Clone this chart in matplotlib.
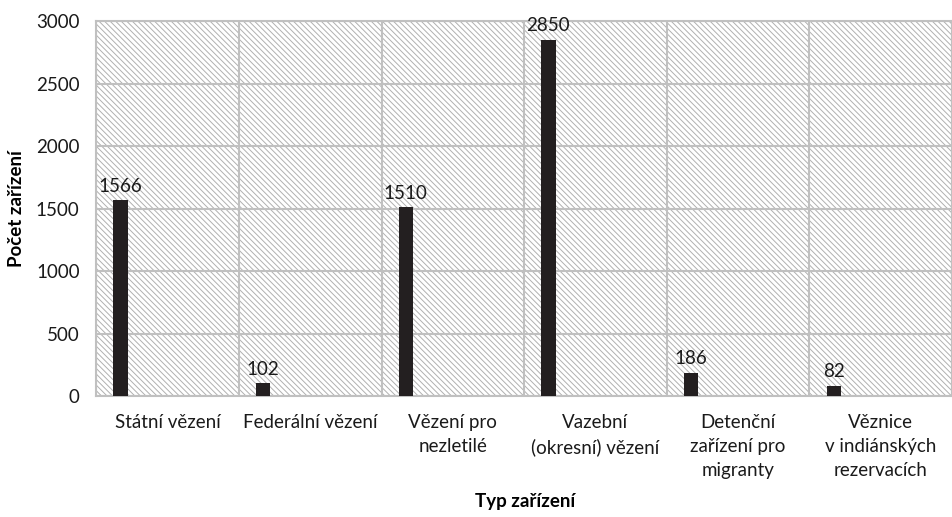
import matplotlib.pyplot as plt
from matplotlib.patches import Rectangle

# Data
categories = ['Státní vězení', 'Federální vězení', 'Vězení pro\nnezletilé',
              'Vazební\n(okresní) vězení', 'Detenční\nzařízení pro\nmigranty',
              'Věznice\nv indiánských\nrezervacích']
counts = [1566, 102, 1510, 2850, 186, 82]
y_ticks = [0, 500, 1000, 1500, 2000, 2500, 3000]


def main():
    plt.rcParams['font.family'] = ['Lato', 'DejaVu Sans']
    plt.rcParams['hatch.color'] = '#b0b0b0'
    plt.rcParams['hatch.linewidth'] = 0.7

    fig = plt.figure(figsize=(9.53, 5.17), dpi=100)
    ax = fig.add_axes([0.101, 0.234, 0.898, 0.725])

    n = len(categories)
    ax.set_xlim(-0.5, n - 0.5)
    ax.set_ylim(0, 3000)

    # Hatched plot background
    ax.add_patch(Rectangle((0, 0), 1, 1, transform=ax.transAxes, facecolor='white',
                           hatch='\\' * 6, edgecolor='#b0b0b0', linewidth=0, zorder=0))

    xs = [i - 0.33 for i in range(n)]
    ax.bar(xs, counts, width=0.1, color='#231f20', zorder=3)
    for x, v in zip(xs, counts):
        ax.annotate(str(v), (x, v), xytext=(0, 4), textcoords='offset points',
                    ha='center', va='bottom', fontsize=13.5, color='#1a1a1a', zorder=4)

    # Grid
    ax.set_yticks(y_ticks)
    ax.set_xticks(range(n))
    ax.set_xticklabels(categories, fontsize=13.5, color='#1a1a1a', linespacing=1.5)
    ax.set_xticks([i + 0.5 for i in range(-1, n)], minor=True)
    ax.grid(axis='y', which='major', color='#c0c0c0', linewidth=1.5, zorder=1)
    ax.grid(axis='x', which='minor', color='#c0c0c0', linewidth=1.5, zorder=1)
    ax.tick_params(axis='x', which='both', length=0, pad=13)
    ax.tick_params(axis='y', length=0, pad=12, labelsize=13.5, labelcolor='#1a1a1a')
    for s in ['top', 'right', 'bottom', 'left']:
        ax.spines[s].set_color('#c0c0c0')
        ax.spines[s].set_linewidth(1.5)

    ax.set_ylabel('Počet zařízení', fontsize=13.5, fontweight='bold', labelpad=8)
    fig.text(0.551, 0.03, 'Typ zařízení', ha='center', va='center',
             fontsize=13.5, fontweight='bold')

    fig.savefig('out.png', dpi=100)
    return 0


if __name__ == '__main__':
    exit(main())
